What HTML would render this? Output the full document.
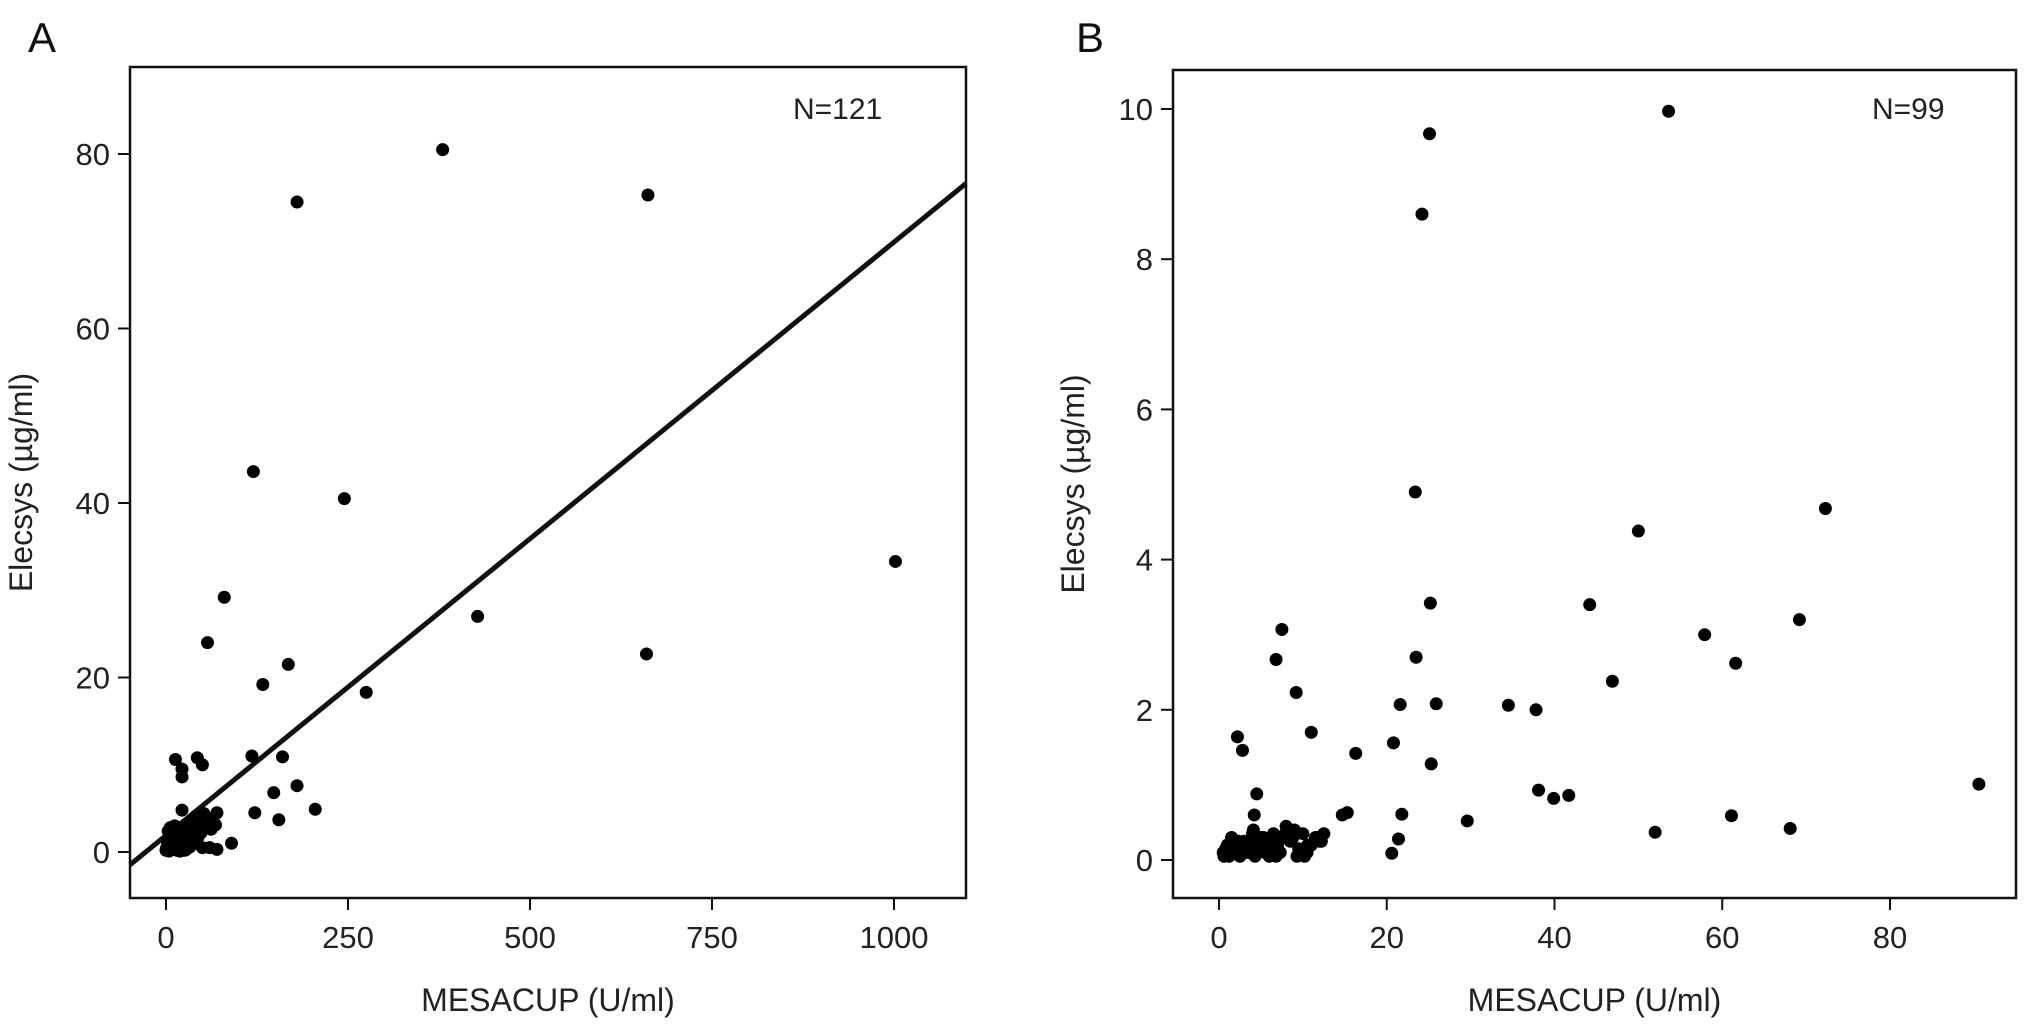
<!DOCTYPE html>
<html><head><meta charset="utf-8"><style>
html,body{margin:0;padding:0;background:#fff;}
svg{display:block;font-family:"Liberation Sans",Arial,sans-serif;}
</style></head><body>
<svg id="chart" width="2032" height="1027" viewBox="0 0 2032 1027" xmlns="http://www.w3.org/2000/svg"></svg>
<script>
const aXTicks=[0,250,500,750,1000];
const aYTicks=[0,20,40,60,80];
const aX=[380,180,662,120,245,1002,428,80,57,168,133,275,660,118,160,13,43,50,22,22,148,180,205,122,155,90,22,70,65,55,40,45,30,60,50,70,10,5,8,15,20,25,35,12,18,3,28,38,0,6,14,32,48,58,52,2,4,7,9,11,16,19,24,27,33,36,42,26,17,1,3,62,68,44,31];
const aY=[80.5,74.5,75.3,43.6,40.5,33.3,27,29.2,24,21.5,19.2,18.3,22.7,11,10.9,10.6,10.8,10,9.5,8.6,6.8,7.6,4.9,4.5,3.7,1,4.8,4.5,3.5,4,4,3,3,0.5,0.5,0.3,2,1.5,0.5,0.2,0.4,1.2,2,3,2.5,0.8,0.3,1,0.2,2.8,1,2.5,2.2,3.2,4.4,1.2,0.1,0.6,1.8,0.4,1.5,0.1,2.2,1.4,0.6,3.6,2.8,0.2,1.9,0.5,2.4,2.6,3.1,1.7,0.9];
const aFit=[1.9,0.068];
const bXTicks=[0,20,40,60,80];
const bYTicks=[0,2,4,6,8,10];
const bX=[53.6,25.1,24.2,23.4,72.3,50,44.2,25.2,7.5,57.9,69.2,6.8,23.5,61.6,46.9,9.2,21.6,25.9,34.5,37.8,2.2,2.8,11,20.8,16.3,25.3,4.5,38.1,39.9,41.7,90.6,4.2,14.7,15.3,21.8,29.6,61.1,52,68.1,20.6,21.4,8,0.5,1,1.5,2,2.5,3,3.5,4,4.5,5,5.5,6,6.5,7,7.5,8.5,9,9.5,10,10.5,11,11.5,12,12.5,1.2,2.3,3.3,4.3,5.3,6.3,7.3,8.8,9.8,10.2,11.8,0.8,1.8,3.8,4.8,6.8,5.8,0.6,2.6,4.1,6.1,10.6,12.2,3.1,7.9,1.4,9.3,5.1];
const bY=[9.97,9.67,8.6,4.9,4.68,4.38,3.4,3.42,3.07,3.0,3.2,2.67,2.7,2.62,2.38,2.23,2.07,2.08,2.06,2.0,1.64,1.46,1.7,1.56,1.42,1.28,0.88,0.93,0.82,0.86,1.01,0.6,0.6,0.63,0.61,0.52,0.59,0.37,0.42,0.09,0.28,0.45,0.1,0.2,0.3,0.15,0.05,0.25,0.1,0.35,0.2,0.3,0.1,0.05,0.35,0.2,0.3,0.25,0.4,0.15,0.35,0.1,0.2,0.3,0.25,0.35,0.05,0.25,0.15,0.05,0.3,0.2,0.1,0.3,0.1,0.05,0.3,0.15,0.1,0.2,0.25,0.05,0.15,0.05,0.15,0.4,0.1,0.2,0.25,0.2,0.35,0.1,0.05,0.2,0.3];

const NS='http://www.w3.org/2000/svg';
const svg=document.getElementById('chart');
function mk(tag,attrs,parent){const e=document.createElementNS(NS,tag);for(const k in attrs)e.setAttribute(k,attrs[k]);(parent||svg).appendChild(e);return e;}

function panel(cfg){
  const g=mk('g',{});
  
  
  const sx=v=>cfg.x0px+(v-0)*(cfg.x1px-cfg.x0px)/(cfg.xTicks[cfg.xTicks.length-1]);
  const sy=v=>cfg.y0px-(v)*(cfg.y0px-cfg.y1px)/(cfg.yTicks[cfg.yTicks.length-1]);
  const box=mk('rect',{x:cfg.L,y:cfg.T,width:cfg.R-cfg.L,height:cfg.B-cfg.T,fill:'none',stroke:'#111','stroke-width':2.5},g);
  
  
  cfg.xTicks.forEach(t=>{
    const X=sx(t);
    const l=mk('line',{x1:X,x2:X,y1:cfg.B,y2:cfg.B+12,stroke:'#111','stroke-width':2},g);
    
    
    const tx=mk('text',{x:X,y:cfg.B+50,'font-size':31,'text-anchor':'middle',fill:'#222'},g);
    tx.textContent=t;
    
    
  });
  cfg.yTicks.forEach(t=>{
    const Y=sy(t);
    const l=mk('line',{x1:cfg.L-12,x2:cfg.L,y1:Y,y2:Y,stroke:'#111','stroke-width':2},g);
    
    
    const tx=mk('text',{x:cfg.L-20,y:Y+11,'font-size':31,'text-anchor':'end',fill:'#222'},g);
    tx.textContent=t;
    
    
  });
  const xt=mk('text',{x:(cfg.L+cfg.R)/2,y:cfg.B+113,'font-size':32,'text-anchor':'middle',fill:'#222'},g);
  xt.textContent='MESACUP (U/ml)';
  
  
  const yt=mk('text',{x:0,y:0,'font-size':32,'text-anchor':'middle',fill:'#222',transform:`translate(${cfg.ytX},${(cfg.T+cfg.B)/2}) rotate(-90)`},g);
  yt.textContent='Elecsys (µg/ml)';
  
  
  const pl=mk('text',{x:cfg.lblX,y:52,'font-size':42,fill:'#111'},g);
  pl.textContent=cfg.label;
  
  
  const nt=mk('text',{x:cfg.nX,y:119,'font-size':30,fill:'#222'},g);
  nt.textContent=cfg.nText;
  
  
  if(cfg.fit){
    const xa=(cfg.L-cfg.x0px)/(sx(1)-sx(0)), xb=(cfg.R-cfg.x0px)/(sx(1)-sx(0));
    const ln=mk('line',{x1:sx(xa),y1:sy(cfg.fit[0]+cfg.fit[1]*xa),x2:sx(xb),y2:sy(cfg.fit[0]+cfg.fit[1]*xb),stroke:'#111','stroke-width':5},g);
    
    
  }
  cfg.xs.forEach((v,i)=>{
    const c=mk('circle',{cx:sx(v),cy:sy(cfg.ys[i]),r:6.5,fill:'#000'},g);
    
    
  });
}
panel({name:'panel-a',label:'A',lblX:28,nX:793,nText:'N=121',L:130,R:966,T:67,B:898,x0px:166,x1px:894,y0px:852,y1px:154,xTicks:aXTicks,yTicks:aYTicks,xs:aX,ys:aY,fit:aFit,ytX:32});
panel({name:'panel-b',label:'B',lblX:1076,nX:1872,nText:'N=99',L:1173,R:2016,T:70,B:898,x0px:1219,x1px:1890,y0px:860,y1px:109,xTicks:bXTicks,yTicks:bYTicks,xs:bX,ys:bY,fit:null,ytX:1084});
</script>
</body></html>
